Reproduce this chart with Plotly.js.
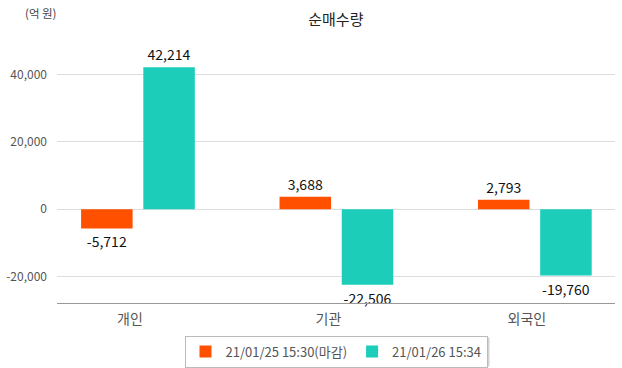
<!DOCTYPE html>
<html>
<head>
<meta charset="utf-8">
<script src="https://cdn.plot.ly/plotly-3.0.1.min.js"></script>
<style>
html,body{margin:0;padding:0;background:#fff;}
#chart{width:622px;height:368px;}
</style>
</head>
<body>
<div id="chart"></div>
<script>
const categories = ['개인', '기관', '외국인'];
const seriesNames = ['21/01/25 15:30(마감)', '21/01/26 15:34'];
const series1 = [-5712, 3688, 2793];
const series2 = [42214, -22506, -19760];
const yTickVals = [-20000, 0, 20000, 40000];
const yTickText = ['-20,000', '0', '20,000', '40,000'];
const colors = ['#FF5000', '#1CCDBA'];

const FONT = '"Noto Sans CJK KR", "Noto Sans", sans-serif';
const fmt = v => v.toLocaleString('en-US');

const traces = [series1, series2].map((vals, i) => ({
  type: 'bar',
  x: categories,
  y: vals,
  name: seriesNames[i],
  marker: {color: colors[i]},
  text: vals.map(fmt),
  textposition: 'outside',
  cliponaxis: false,
  textfont: {family: FONT, size: 14, color: '#111'},
  hoverinfo: 'x+y'
}));

// plot area: 57..615 px horizontally, 41..303 px vertically
const px = x => (x - 57) / 558;
const py = y => (303 - y) / 262;

const layout = {
  width: 622,
  height: 368,
  margin: {l: 57, r: 7, t: 41, b: 65, autoexpand: false},
  paper_bgcolor: '#fff',
  plot_bgcolor: '#fff',
  font: {family: FONT, color: '#555'},
  title: {text: '순매수량', x: 0.54, xanchor: 'center', y: 0.945, yanchor: 'middle', font: {family: FONT, size: 15, color: '#222'}},
  barmode: 'group',
  bargap: 0.373,
  bargroupgap: 0.172,
  showlegend: true,
  legend: {
    orientation: 'h', x: 0.5, xanchor: 'center', y: py(335.5), yanchor: 'top',
    bordercolor: '#bbb', borderwidth: 1, bgcolor: '#fff',
    font: {family: FONT, size: 13, color: '#555'},
    itemclick: false, itemdoubleclick: false
  },
  shapes: [{
    type: 'rect', xref: 'paper', yref: 'paper', layer: 'below',
    x0: px(188), x1: px(489.5), y0: py(337.5), y1: py(366.5),
    fillcolor: '#d3d3d3', line: {width: 0}
  }],
  xaxis: {
    type: 'category',
    range: [-0.408, 2.404],
    showgrid: false,
    showline: true, linecolor: '#999', linewidth: 1,
    ticks: '',
    ticklabelshift: -8,
    ticklabelstandoff: 3,
    tickfont: {family: FONT, size: 14, color: '#555'},
    fixedrange: true
  },
  yaxis: {
    range: [-27900, 50000],
    tickvals: yTickVals,
    ticktext: yTickText,
    showgrid: true, gridcolor: '#ddd', gridwidth: 1,
    zeroline: false,
    showline: false,
    ticks: '',
    ticklabelstandoff: 9,
    tickfont: {family: FONT, size: 12, color: '#555'},
    fixedrange: true
  },
  annotations: [{
    text: '(억 원)', xref: 'paper', yref: 'paper', x: -0.061, y: 1.108,
    xanchor: 'left', yanchor: 'middle', showarrow: false,
    font: {family: FONT, size: 11.5, color: '#444'}
  }]
};

Plotly.newPlot('chart', traces, layout, {displayModeBar: false, staticPlot: true});
</script>
</body>
</html>
